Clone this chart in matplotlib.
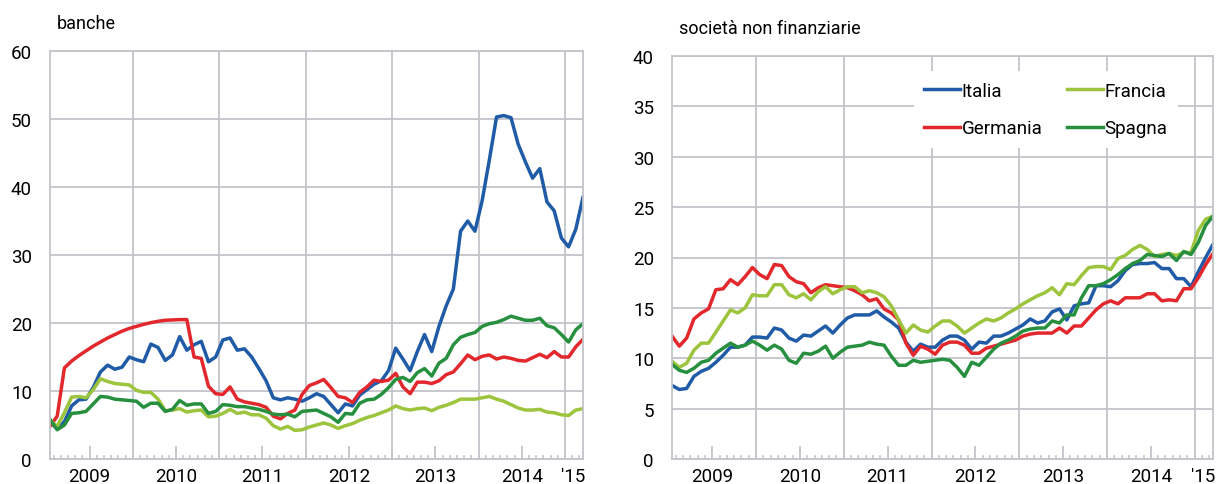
import numpy as np
import matplotlib.pyplot as plt

plt.rcParams['font.family'] = ['Roboto', 'DejaVu Sans']

# monthly data, Jan 2009 - Mar 2015
year_labels = ['2009', '2010', '2011', '2012', '2013', '2014', "'15"]
series_names = ['Italia', 'Germania', 'Francia', 'Spagna']
colors = {'Italia': '#1f5ba6', 'Germania': '#e2282d',
          'Francia': '#9cc43c', 'Spagna': '#27903e'}

banche_italia = [5.5, 4.4, 5.5, 7.8, 8.7, 8.8, 10.5, 12.8, 13.8, 13.2,
                 13.5, 15.0, 14.6, 14.3, 16.9, 16.4, 14.5, 15.3, 18.0, 16.0,
                 16.8, 17.3, 14.3, 15.0, 17.5, 17.8, 16.0, 16.2, 15.0, 13.3,
                 11.5, 9.0, 8.7, 9.0, 8.8, 8.5, 9.0, 9.6, 9.2, 8.0,
                 6.8, 8.1, 7.8, 9.4, 10.2, 11.0, 11.5, 13.0, 16.3, 14.7,
                 13.0, 15.8, 18.3, 15.8, 19.5, 22.5, 25.0, 33.5, 35.0, 33.5,
                 38.0, 44.0, 50.3, 50.5, 50.2, 46.3, 43.7, 41.3, 42.7, 37.8,
                 36.5, 32.5, 31.2, 33.8, 38.5]
banche_germania = [4.8, 6.3, 13.4, 14.4, 15.2, 15.9, 16.6, 17.2, 17.8, 18.3,
                   18.8, 19.2, 19.5, 19.8, 20.05, 20.25, 20.4, 20.45, 20.5, 20.5,
                   15.0, 14.8, 10.7, 9.6, 9.5, 10.6, 8.8, 8.4, 8.2, 8.0,
                   7.6, 6.3, 5.9, 6.7, 7.2, 9.5, 10.8, 11.2, 11.7, 10.5,
                   9.2, 9.0, 8.3, 9.8, 10.6, 11.6, 11.4, 11.6, 12.6, 10.6,
                   9.6, 11.3, 11.3, 11.1, 11.5, 12.4, 12.8, 14.0, 15.3, 14.6,
                   15.1, 15.3, 14.7, 15.0, 14.8, 14.5, 14.4, 14.9, 15.4, 14.9,
                   15.8, 15.0, 15.0, 16.5, 17.6]
banche_francia = [5.7, 4.8, 6.8, 9.1, 9.2, 9.0, 10.2, 11.8, 11.4, 11.1,
                  11.0, 10.9, 10.1, 9.8, 9.8, 8.8, 7.1, 7.2, 7.4, 6.9,
                  7.1, 7.2, 6.2, 6.3, 6.7, 7.3, 6.7, 6.9, 6.5, 6.5,
                  6.0, 4.9, 4.4, 4.8, 4.2, 4.3, 4.7, 5.0, 5.3, 5.0,
                  4.5, 4.9, 5.2, 5.7, 6.1, 6.4, 6.8, 7.2, 7.8, 7.4,
                  7.2, 7.4, 7.5, 7.1, 7.6, 7.9, 8.3, 8.8, 8.8, 8.8,
                  9.0, 9.2, 8.8, 8.5, 8.0, 7.5, 7.2, 7.2, 7.3, 6.9,
                  6.8, 6.5, 6.4, 7.2, 7.4]
banche_spagna = [5.8, 4.3, 5.0, 6.7, 6.8, 7.0, 8.1, 9.2, 9.1, 8.8,
                 8.7, 8.6, 8.5, 7.6, 8.2, 8.2, 7.0, 7.3, 8.6, 7.9,
                 8.1, 8.1, 6.7, 7.0, 8.0, 7.9, 7.7, 7.7, 7.5, 7.3,
                 7.0, 6.6, 6.5, 6.6, 6.2, 7.0, 7.1, 7.2, 6.7, 6.2,
                 5.4, 6.7, 6.6, 8.2, 8.7, 8.8, 9.5, 10.5, 11.7, 12.0,
                 11.4, 12.7, 13.3, 12.2, 14.1, 14.8, 16.8, 17.9, 18.3, 18.6,
                 19.5, 19.9, 20.1, 20.5, 21.0, 20.7, 20.4, 20.4, 20.7, 19.6,
                 19.3, 18.3, 17.2, 19.0, 19.9]

snf_italia = [7.3, 6.9, 7.0, 8.2, 8.7, 9.0, 9.6, 10.3, 11.1, 11.1,
              11.3, 12.1, 12.1, 12.0, 13.0, 12.8, 12.0, 11.7, 12.3, 12.2,
              12.7, 13.2, 12.5, 13.3, 14.0, 14.3, 14.3, 14.3, 14.7, 14.1,
              13.6, 13.0, 11.6, 10.7, 11.4, 11.1, 11.1, 11.8, 12.2, 12.2,
              11.8, 10.9, 11.6, 11.5, 12.2, 12.2, 12.5, 12.9, 13.3, 13.9,
              13.5, 13.7, 14.6, 14.9, 13.8, 15.2, 15.4, 15.5, 17.2, 17.2,
              17.1, 17.7, 18.7, 19.3, 19.4, 19.4, 19.5, 18.9, 18.9, 17.9,
              17.9, 17.1, 18.6, 20.0, 21.3]
snf_germania = [12.2, 11.2, 12.0, 13.9, 14.5, 14.9, 16.8, 16.9, 17.8, 17.3,
                18.1, 19.0, 18.3, 17.9, 19.3, 19.2, 18.1, 17.6, 17.4, 16.5,
                17.0, 17.3, 17.2, 17.1, 17.0, 16.7, 16.3, 15.7, 15.9, 14.9,
                14.5, 13.8, 11.5, 10.3, 11.2, 10.9, 10.4, 11.3, 11.6, 11.6,
                11.3, 10.5, 10.5, 11.0, 11.2, 11.4, 11.6, 11.8, 12.2, 12.4,
                12.5, 12.5, 12.5, 13.0, 12.5, 13.2, 13.2, 14.0, 14.8, 15.4,
                15.7, 15.4, 16.0, 16.0, 16.0, 16.4, 16.4, 15.7, 15.8, 15.7,
                16.9, 16.9, 18.0, 19.3, 20.4]
snf_francia = [9.7, 9.1, 9.5, 10.8, 11.5, 11.5, 12.6, 13.7, 14.8, 14.5,
               15.0, 16.3, 16.2, 16.2, 17.3, 17.3, 16.3, 16.0, 16.4, 15.8,
               16.6, 17.1, 16.4, 16.8, 17.1, 17.1, 16.5, 16.7, 16.5, 16.1,
               15.2, 13.8, 12.5, 13.3, 12.8, 12.6, 13.2, 13.7, 13.7, 13.2,
               12.5, 13.0, 13.5, 13.9, 13.7, 14.0, 14.5, 14.9, 15.4, 15.8,
               16.2, 16.5, 17.0, 16.3, 17.4, 17.3, 18.2, 19.0, 19.1, 19.1,
               18.8, 19.9, 20.2, 20.8, 21.2, 20.8, 20.1, 20.3, 20.4, 20.2,
               20.5, 20.5, 22.7, 23.8, 24.1]
snf_spagna = [9.4, 8.8, 8.6, 9.0, 9.6, 9.8, 10.5, 11.0, 11.5, 11.1,
              11.3, 11.7, 11.3, 10.8, 11.3, 10.9, 9.8, 9.5, 10.5, 10.4,
              10.7, 11.2, 10.0, 10.6, 11.1, 11.2, 11.3, 11.6, 11.4, 11.3,
              10.2, 9.3, 9.3, 9.8, 9.6, 9.7, 9.8, 9.9, 9.8, 9.1,
              8.2, 9.6, 9.3, 10.1, 10.9, 11.5, 11.8, 12.2, 12.7, 12.9,
              13.0, 13.0, 13.7, 13.5, 14.3, 14.3, 16.0, 17.2, 17.2, 17.4,
              17.8, 18.3, 18.9, 19.4, 19.7, 20.3, 20.2, 20.1, 20.4, 19.7,
              20.6, 20.3, 21.5, 23.2, 24.1]

banche = {'Italia': banche_italia, 'Germania': banche_germania,
          'Francia': banche_francia, 'Spagna': banche_spagna}
snf = {'Italia': snf_italia, 'Germania': snf_germania,
       'Francia': snf_francia, 'Spagna': snf_spagna}

grid_col = '#c3c3ca'
n = len(banche_italia)
x = np.arange(n)

fig = plt.figure(figsize=(12.17, 4.85), dpi=100)
ax1 = fig.add_axes([50/1217, 25/485, 533/1217, 408/485])
ax2 = fig.add_axes([672/1217, 25/485, 541/1217, 403/485])


def style(ax, ymax, ystep, title):
    ax.set_xlim(0, n - 1)
    ax.set_ylim(0, ymax)
    ax.set_yticks(np.arange(0, ymax + 1, ystep))
    ax.grid(axis='y', color=grid_col, lw=1.3)
    for b in np.arange(11.5, n, 12):
        ax.axvline(b, color=grid_col, lw=1.3, zorder=1)
    # mid-year ticks carry the year labels
    mids = np.arange(5.5, n - 6, 12)
    ax.set_xticks(mids)
    ax.set_xticklabels(year_labels[:len(mids)])
    ax.set_xticks(np.arange(0.5, n - 1, 1), minor=True)
    ax.tick_params(axis='x', which='major', direction='in', length=9.5,
                   width=1.3, color=grid_col, labelsize=13.5, pad=6)
    ax.tick_params(axis='x', which='minor', direction='in', length=3,
                   width=1.1, color=grid_col)
    ax.tick_params(axis='y', length=0, labelsize=13.5, pad=13)
    ax.annotate(year_labels[-1], xy=(72.6, 0), xycoords=('data', 'axes fraction'),
                xytext=(0, -6), textcoords='offset points',
                ha='center', va='top', fontsize=13.5)
    for s in ax.spines.values():
        s.set_color(grid_col)
        s.set_linewidth(1.3)
    ax.set_axisbelow(True)
    ax.annotate(title, xy=(0, 1), xycoords='axes fraction',
                xytext=(5, 14), textcoords='offset points',
                fontsize=13, ha='left', va='bottom')


style(ax1, 60, 10, 'banche')
style(ax2, 40, 5, 'società non finanziarie')

for name in series_names:
    ax1.plot(x, banche[name], color=colors[name], lw=2.5,
             solid_joinstyle='round', label=name)
    ax2.plot(x, snf[name], color=colors[name], lw=2.5,
             solid_joinstyle='round', label=name)

leg = ax2.legend(ncol=2, loc='upper left', bbox_to_anchor=(0.43, 0.985),
                 fontsize=13.5, frameon=True, facecolor='white',
                 edgecolor='none', framealpha=1, fancybox=False,
                 handlelength=1.9, handletextpad=0.1, columnspacing=1.3,
                 labelspacing=1.05, borderpad=0.55)

fig.savefig('out.png', dpi=100)
